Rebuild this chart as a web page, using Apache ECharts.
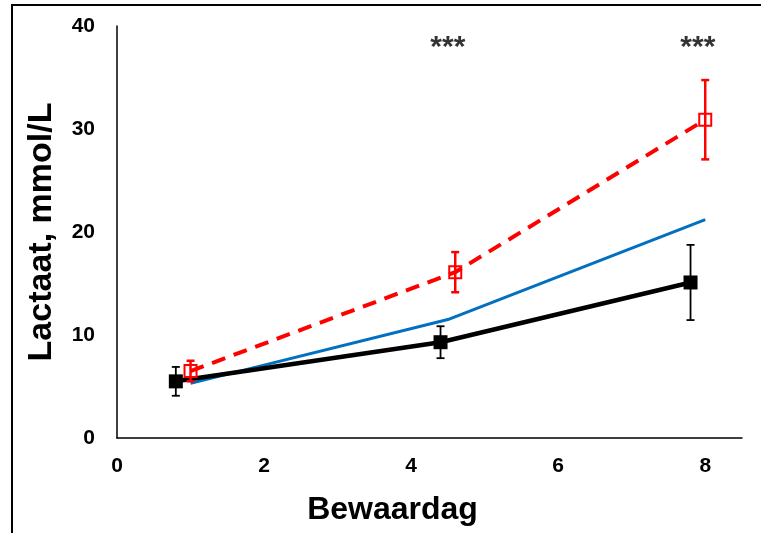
<!DOCTYPE html>
<html>
<head>
<meta charset="utf-8">
<script src="https://cdn.jsdelivr.net/npm/echarts@6/dist/echarts.min.js"></script>
<style>
  html, body { margin: 0; padding: 0; background: #fff; }
  #chart { width: 761px; height: 533px; }
</style>
</head>
<body>
<div id="chart"></div>
<script>
// storage day (x), lactate mmol/L (y), error (sd)
const blackX = [0.8, 4.4, 7.8];
const blackY = [5.5, 9.3, 15.1];
const blackErr = [1.4, 1.55, 3.65];

const redX = [1.0, 4.6, 8.0];
const redY = [6.5, 16.1, 30.9];
const redErr = [1.0, 1.95, 3.85];

const blueX = [1.0, 4.5, 8.0];
const blueY = [5.3, 11.5, 21.2];

const starX = [4.5, 7.9];
const starY = [37.9, 37.9];
const starText = '***';

const xTicks = [0, 2, 4, 6, 8];

const zip = (xs, ys) => xs.map((x, i) => [x, ys[i]]);
const errData = (xs, ys, es) => xs.map((x, i) => [x, ys[i] - es[i], ys[i] + es[i]]);

function errorBars(color, width, cap) {
    return function (params, api) {
        const x = api.value(0);
        const lo = api.coord([x, api.value(1)]);
        const hi = api.coord([x, api.value(2)]);
        const style = { stroke: color, lineWidth: width };
        return {
            type: 'group',
            children: [
                { type: 'line', shape: { x1: lo[0], y1: lo[1], x2: hi[0], y2: hi[1] }, style },
                { type: 'line', shape: { x1: lo[0] - cap, y1: lo[1], x2: lo[0] + cap, y2: lo[1] }, style },
                { type: 'line', shape: { x1: hi[0] - cap, y1: hi[1], x2: hi[0] + cap, y2: hi[1] }, style }
            ]
        };
    };
}

const chart = echarts.init(document.getElementById('chart'));

const font = 'Liberation Sans, Arial, sans-serif';

chart.setOption({
    backgroundColor: '#ffffff',
    animation: false,
    grid: { left: 117, top: 26, width: 625, height: 412 },
    xAxis: {
        type: 'value',
        min: 0,
        max: 8.5,
        interval: 2,
        name: 'Bewaardag',
        nameLocation: 'middle',
        nameGap: 56,
        nameTextStyle: {
            color: '#000', fontSize: 32, fontWeight: 'bold', fontFamily: font,
            padding: [0, 74, 0, 0]
        },
        axisLine: { lineStyle: { color: '#000', width: 1.5 } },
        axisTick: { show: false },
        splitLine: { show: false },
        axisLabel: {
            color: '#000', fontSize: 21, fontWeight: 'bold', fontFamily: font, margin: 18,
            formatter: v => xTicks.includes(v) ? String(v) : ''
        }
    },
    yAxis: {
        type: 'value',
        min: 0,
        max: 40,
        interval: 10,
        name: 'Lactaat, mmol/L',
        nameLocation: 'middle',
        nameGap: 58,
        nameTextStyle: { color: '#000', fontSize: 34, fontWeight: 'bold', fontFamily: font },
        axisLine: { show: true, lineStyle: { color: '#000', width: 1.5 } },
        axisTick: { show: false },
        splitLine: { show: false },
        axisLabel: { color: '#000', fontSize: 21, fontWeight: 'bold', fontFamily: font, margin: 22 }
    },
    graphic: [
        {
            type: 'polyline',
            shape: { points: [[12, 533], [12, 5], [761, 5]] },
            style: { stroke: '#000', lineWidth: 2, fill: null },
            silent: true
        }
    ],
    series: [
        {
            name: 'blue',
            type: 'line',
            data: zip(blueX, blueY),
            showSymbol: false,
            symbol: 'none',
            lineStyle: { color: '#0070c0', width: 3 },
            z: 2
        },
        {
            name: 'black',
            type: 'line',
            data: zip(blackX, blackY),
            symbol: 'rect',
            symbolSize: 14,
            itemStyle: { color: '#000' },
            lineStyle: { color: '#000', width: 4.5 },
            z: 3
        },
        {
            name: 'blackErr',
            type: 'custom',
            data: errData(blackX, blackY, blackErr),
            renderItem: errorBars('#000', 1.8, 4),
            z: 4
        },
        {
            name: 'red',
            type: 'line',
            data: zip(redX, redY),
            symbol: 'rect',
            symbolSize: 12,
            itemStyle: { color: 'rgba(0,0,0,0)', borderColor: '#ff0000', borderWidth: 2 },
            lineStyle: { color: '#ff0000', width: 4, type: [14, 9] },
            z: 5
        },
        {
            name: 'redErr',
            type: 'custom',
            data: errData(redX, redY, redErr),
            renderItem: errorBars('#ff0000', 2.5, 4),
            z: 6
        },
        {
            name: 'stars',
            type: 'scatter',
            data: zip(starX, starY),
            symbolSize: 0,
            label: {
                show: true,
                position: 'inside',
                formatter: starText,
                color: '#000',
                fontSize: 30,
                fontWeight: 'bold',
                fontFamily: font
            },
            z: 7
        }
    ]
});
</script>
</body>
</html>
